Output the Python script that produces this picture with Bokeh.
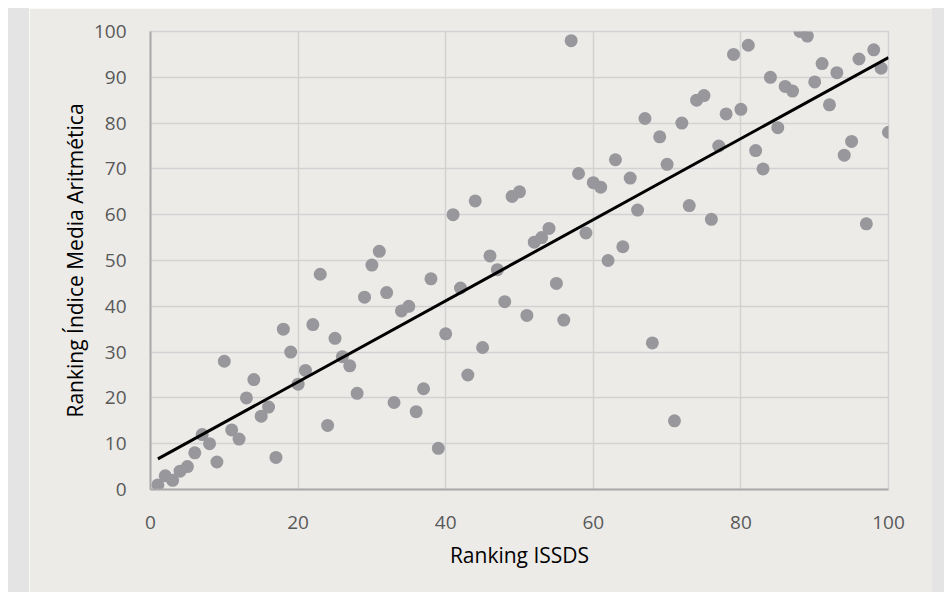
import numpy as np
from bokeh.plotting import figure
from bokeh.models import Range1d, FixedTicker, Spacer, ColumnDataSource
from bokeh.layouts import row, column
from bokeh.embed import file_html
from bokeh.resources import INLINE

# Data: Ranking ISSDS (x) vs Ranking Índice Media Aritmética (y)
ranking_issds = list(range(1, 101))
ranking_media = [1, 3, 2, 4, 5, 8, 12, 10, 6, 28,
                 13, 11, 20, 24, 16, 18, 7, 35, 30, 23,
                 26, 36, 47, 14, 33, 29, 27, 21, 42, 49,
                 52, 43, 19, 39, 40, 17, 22, 46, 9, 34,
                 60, 44, 25, 63, 31, 51, 48, 41, 64, 65,
                 38, 54, 55, 57, 45, 37, 98, 69, 56, 67,
                 66, 50, 72, 53, 68, 61, 81, 32, 77, 71,
                 15, 80, 62, 85, 86, 59, 75, 82, 95, 83,
                 97, 74, 70, 90, 79, 88, 87, 100, 99, 89,
                 93, 84, 91, 73, 76, 94, 58, 96, 92, 78]
x_ticks = [0, 20, 40, 60, 80, 100]
y_ticks = [0, 10, 20, 30, 40, 50, 60, 70, 80, 90, 100]

LIGHT = "#ecebe8"
DARK = "#e4e4e4"
FONT = "Open Sans"

p = figure(width=903, height=584, output_backend="svg", toolbar_location=None,
           x_range=Range1d(0, 100), y_range=Range1d(0, 100),
           min_border_left=121, min_border_right=44, min_border_top=23, min_border_bottom=103,
           background_fill_color=LIGHT, border_fill_color=LIGHT)

p.outline_line_color = "#d2d2d2"
p.outline_line_width = 1.5

p.xaxis.ticker = FixedTicker(ticks=x_ticks)
p.yaxis.ticker = FixedTicker(ticks=y_ticks)
p.xgrid.ticker = FixedTicker(ticks=x_ticks)
p.ygrid.ticker = FixedTicker(ticks=y_ticks)
for g in (p.xgrid, p.ygrid):
    g.grid_line_color = "#d2d2d2"
    g.grid_line_width = 1.5

for ax in (p.xaxis, p.yaxis):
    ax.axis_line_color = "#aaaaaa"
    ax.axis_line_width = 2
    ax.major_tick_line_color = None
    ax.minor_tick_line_color = None
    ax.major_tick_out = 0
    ax.major_tick_in = 0
    ax.major_label_text_font = FONT
    ax.major_label_text_font_size = "19px"
    ax.major_label_text_color = "#595959"
    ax.axis_label_text_font = FONT
    ax.axis_label_text_font_size = "21px"
    ax.axis_label_text_font_style = "normal"
    ax.axis_label_text_color = "#000000"

p.xaxis.axis_label = "Ranking ISSDS"
p.yaxis.axis_label = "Ranking Índice Media Aritmética"
p.xaxis.major_label_standoff = 26
p.yaxis.major_label_standoff = 24
p.xaxis.axis_label_standoff = 9
p.yaxis.axis_label_standoff = 2

src = ColumnDataSource(dict(x=ranking_issds, y=ranking_media))
p.scatter("x", "y", source=src, size=13, fill_color="#98979c", line_color=None)

# Linear trend line (least squares fit of the data)
slope, intercept = np.polyfit(ranking_issds, ranking_media, 1)
tx = [min(ranking_issds), max(ranking_issds)]
ty = [slope * v + intercept for v in tx]
p.line(tx, ty, line_color="#000000", line_width=3)

white_left = Spacer(width=8, height=584, styles={"background-color": "#ffffff"})
left = Spacer(width=21, height=584, styles={"background-color": DARK})
right = Spacer(width=12, height=584, styles={"background-color": DARK})
body = row(white_left, left, p, right, spacing=0)
top = Spacer(width=944, height=8, styles={"background-color": "#ffffff"})
layout = column(top, body, spacing=0)

open("out.html", "w").write(file_html(layout, INLINE))
